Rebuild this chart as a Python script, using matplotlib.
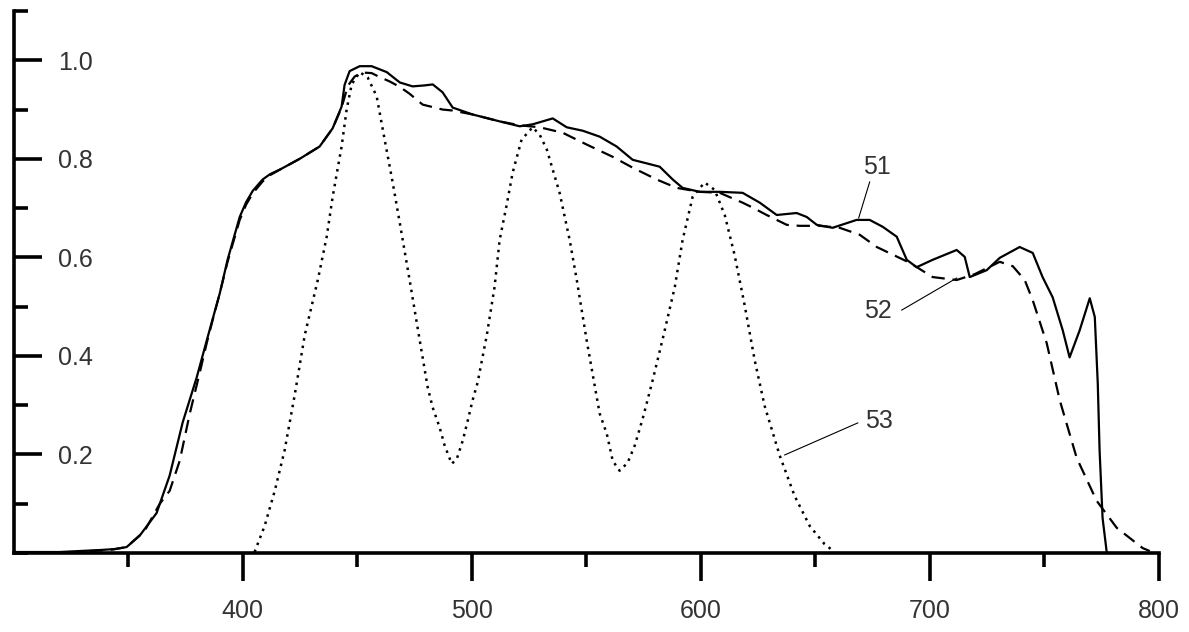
import matplotlib
matplotlib.use("Agg")
import matplotlib.pyplot as plt
from matplotlib.ticker import FixedLocator, MultipleLocator

plt.rcParams['font.family'] = ['Liberation Sans', 'DejaVu Sans']

# curve 51 (solid)
wl_51 = [300, 320.1, 328.8, 337.6, 344.1, 349.3, 355.0, 362.4, 368.1, 373.8, 379.9, 384.7,
         390.0, 393.4, 398.7, 401.5, 404.4, 408.7, 412.0, 416.2, 424.9, 433.6, 439.3, 443.2,
         444.5, 446.7, 451.1, 456.3, 462.9, 468.6, 474.2, 479.5, 483.0, 487.3, 491.7, 500.4,
         512.2, 521.0, 526.6, 535.4, 541.5, 548.5, 555.9, 563.3, 570.3, 582.1, 587.8, 592.1,
         599.6, 608.3, 618.3, 625.8, 633.2, 641.9, 646.3, 650.7, 657.6, 668.1, 673.8, 679.5,
         685.6, 690.0, 694.3, 701.3, 711.8, 715.3, 717.5, 724.9, 730.6, 739.3, 745.0, 749.3,
         753.7, 758.1, 761.1, 765.5, 769.9, 772.1, 773.4, 774.2, 775.5, 777.3]
val_51 = [0.002, 0.002, 0.004, 0.006, 0.008, 0.012, 0.035, 0.081, 0.157, 0.265, 0.356, 0.438,
          0.527, 0.595, 0.682, 0.712, 0.735, 0.758, 0.769, 0.778, 0.800, 0.825, 0.862, 0.906,
          0.950, 0.978, 0.988, 0.988, 0.976, 0.955, 0.947, 0.949, 0.951, 0.935, 0.904, 0.890,
          0.876, 0.866, 0.870, 0.882, 0.864, 0.857, 0.845, 0.825, 0.798, 0.784, 0.758, 0.741,
          0.733, 0.733, 0.731, 0.711, 0.686, 0.690, 0.682, 0.666, 0.660, 0.676, 0.676, 0.662,
          0.642, 0.595, 0.580, 0.595, 0.615, 0.601, 0.560, 0.574, 0.599, 0.621, 0.609, 0.560,
          0.519, 0.452, 0.397, 0.452, 0.517, 0.479, 0.344, 0.208, 0.071, 0.002]

# curve 52 (dashed)
wl_52 = [333.2, 341.9, 349.3, 357.2, 363.8, 368.1, 372.5, 376.9, 381.2, 384.3, 386.9, 390.0,
         393.4, 398.7, 401.5, 404.4, 408.7, 412.0, 416.2, 424.9, 433.6, 439.3, 443.2, 445.9,
         448.9, 452.4, 456.3, 459.8, 464.2, 468.6, 472.9, 478.6, 487.3, 491.7, 500.4, 512.2,
         521.0, 529.7, 539.7, 550.2, 561.6, 570.3, 580.8, 589.5, 599.6, 608.3, 618.3, 622.7,
         628.8, 637.6, 643.2, 652.0, 660.7, 669.4, 676.9, 691.3, 701.3, 711.8, 719.7, 730.6,
         736.3, 741.5, 745.0, 751.1, 756.8, 764.2, 772.9, 781.7, 793.0, 796.1]
val_52 = [0.004, 0.006, 0.012, 0.045, 0.100, 0.126, 0.187, 0.283, 0.365, 0.426, 0.473, 0.527,
          0.591, 0.676, 0.707, 0.730, 0.754, 0.767, 0.778, 0.800, 0.825, 0.862, 0.904, 0.948,
          0.967, 0.975, 0.974, 0.966, 0.957, 0.946, 0.932, 0.910, 0.900, 0.898, 0.890, 0.876,
          0.868, 0.864, 0.853, 0.829, 0.804, 0.782, 0.758, 0.741, 0.733, 0.731, 0.711, 0.701,
          0.686, 0.666, 0.664, 0.664, 0.660, 0.646, 0.621, 0.589, 0.560, 0.554, 0.566, 0.591,
          0.582, 0.554, 0.513, 0.426, 0.310, 0.193, 0.106, 0.051, 0.010, 0.004]

# curve 53 (dotted)
wl_53 = [405.2, 409.6, 414.0, 418.3, 422.7, 427.1, 432.8, 436.7, 439.3, 443.2, 445.4, 447.6,
         451.1, 454.6, 458.5, 462.0, 465.5, 468.6, 472.9, 477.3, 480.8, 483.0, 486.0, 488.2,
         491.3, 493.5, 496.1, 498.3, 500.4, 502.6, 506.6, 510.0, 512.2, 515.3, 517.9, 521.8,
         526.6, 529.7, 532.8, 535.4, 538.4, 542.8, 545.9, 550.2, 553.7, 555.9, 559.0, 561.6,
         564.6, 568.1, 571.2, 574.7, 579.0, 583.8, 588.7, 592.1, 596.5, 601.7, 606.1, 610.5,
         614.8, 619.2, 623.6, 627.9, 634.5, 641.0, 647.6, 654.1, 658.5]
val_53 = [0.002, 0.055, 0.126, 0.208, 0.320, 0.442, 0.554, 0.642, 0.723, 0.825, 0.900, 0.951,
          0.976, 0.965, 0.927, 0.839, 0.752, 0.670, 0.554, 0.432, 0.336, 0.295, 0.255, 0.218,
          0.181, 0.191, 0.228, 0.269, 0.310, 0.346, 0.442, 0.540, 0.635, 0.707, 0.772, 0.839,
          0.864, 0.849, 0.819, 0.778, 0.731, 0.635, 0.554, 0.432, 0.340, 0.283, 0.242, 0.187,
          0.167, 0.183, 0.218, 0.273, 0.350, 0.442, 0.540, 0.635, 0.723, 0.752, 0.737, 0.686,
          0.605, 0.503, 0.391, 0.299, 0.198, 0.116, 0.055, 0.018, 0.002]

x_ticks = [400, 500, 600, 700, 800]
x_minor = [350, 450, 550, 650, 750]
y_ticks = [0.2, 0.4, 0.6, 0.8, 1.0]
y_labels = ["0.2", "0.4", "0.6", "0.8", "1.0"]

# callout labels: text, text position, leader start, leader end
callouts = [
    ("51", (676.9, 0.783), (673.8, 0.753), (669.0, 0.680)),
    ("52", (677.3, 0.491), (687.8, 0.493), (711.8, 0.558)),
    ("53", (677.7, 0.268), (668.6, 0.264), (636.7, 0.199)),
]

fig = plt.figure(figsize=(11.89, 6.32), dpi=100)
ax = fig.add_axes([0.0115, 0.125, 0.963, 0.8576])

ax.plot(wl_51, val_51, color='black', lw=1.6, solid_joinstyle='round')
ax.plot(wl_52, val_52, color='black', lw=1.6, linestyle=(0, (6, 3.5)))
ax.plot(wl_53, val_53, color='black', lw=1.8, linestyle=(0, (1, 2)))

for txt, pos, p0, p1 in callouts:
    ax.plot([p0[0], p1[0]], [p0[1], p1[1]], color='black', lw=0.8)
    ax.text(pos[0], pos[1], txt, fontsize=18, color='#333333', ha='center', va='center')

ax.set_xlim(300, 800)
ax.set_ylim(0, 1.1)

for side in ['top', 'right']:
    ax.spines[side].set_visible(False)
for side in ['left', 'bottom']:
    ax.spines[side].set_linewidth(2.6)

ax.set_xticks(x_ticks)
ax.xaxis.set_minor_locator(FixedLocator(x_minor))
ax.tick_params(axis='x', which='major', direction='out', length=20, width=2.6,
               labelsize=18, labelcolor='#333333', pad=13)
ax.tick_params(axis='x', which='minor', direction='out', length=10, width=2.6)

ax.set_yticks(y_ticks)
ax.set_yticklabels(y_labels)
ax.yaxis.set_minor_locator(MultipleLocator(0.1))
ax.tick_params(axis='y', which='major', direction='in', length=20, width=2.6,
               labelsize=18, labelcolor='#333333', pad=-32)
ax.tick_params(axis='y', which='minor', direction='in', length=10, width=2.6)
for lbl in ax.get_yticklabels():
    lbl.set_horizontalalignment('left')

fig.savefig("out.png", dpi=100)
